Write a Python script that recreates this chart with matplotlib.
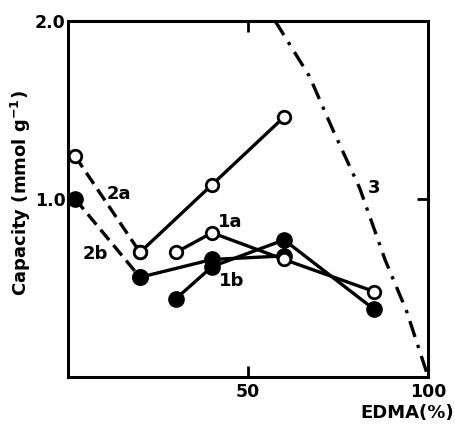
import matplotlib
matplotlib.use("Agg")
import matplotlib.pyplot as plt

# series (EDMA %, capacity mmol/g)
x_2 = [2, 20]
y_2a_dash = [1.24, 0.70]
y_2b_dash = [1.00, 0.56]

x_2_solid = [20, 40, 60]
y_2a = [0.70, 1.08, 1.46]
y_2b = [0.56, 0.66, 0.68]

x_1 = [30, 40, 60, 85]
y_1a = [0.70, 0.81, 0.66, 0.48]
y_1b = [0.44, 0.62, 0.77, 0.38]

x_3 = [57.5, 67, 73.5, 81, 88, 94, 100]
y_3 = [2.0, 1.69, 1.39, 1.06, 0.66, 0.37, 0.0]

plt.rcParams['font.family'] = ['DejaVu Sans']
plt.rcParams['font.weight'] = 'bold'

fig = plt.figure(figsize=(4.56, 4.26), dpi=100)
ax = fig.add_axes([0.149, 0.115, 0.79, 0.836])

lw = 2.4
open_kw = dict(marker='o', markersize=9, markerfacecolor='white',
               markeredgecolor='black', markeredgewidth=2.0, color='black')
fill_kw = dict(marker='o', markersize=11, markerfacecolor='black',
               markeredgecolor='black', color='black')

# dashed parts of 2a / 2b
ax.plot(x_2, y_2a_dash, linestyle=(0, (4, 2)), lw=lw, **open_kw)
ax.plot(x_2, y_2b_dash, linestyle=(0, (4, 2)), lw=lw, **fill_kw)
# solid parts
ax.plot(x_2_solid, y_2a, lw=lw, **open_kw)
ax.plot(x_2_solid, y_2b, lw=lw, **fill_kw)
ax.plot(x_1, y_1a, lw=lw, **open_kw)
ax.plot(x_1, y_1b, lw=lw, **fill_kw)
# curve 3
ax.plot(x_3, y_3, color='black', lw=lw, linestyle=(0, (5, 2.5, 1, 2.5)),
        clip_on=False)

# curve labels
lab_kw = dict(fontsize=13, fontweight='bold', ha='center', va='center')
ax.text(14, 1.03, '2a', **lab_kw)
ax.text(7.5, 0.69, '2b', **lab_kw)
ax.text(45, 0.87, '1a', **lab_kw)
ax.text(45.5, 0.54, '1b', **lab_kw)
ax.text(85, 1.06, '3', **lab_kw)

ax.set_xlim(0, 100)
ax.set_ylim(0, 2.0)
ax.set_xticks([50, 100])
ax.set_xticklabels(['50', '100'])
ax.set_yticks([1.0, 2.0])
ax.set_yticklabels(['1.0', '2.0'])
ax.tick_params(direction='in', length=8, width=2, top=True, right=True,
               labelsize=12.5)
ax.tick_params(axis='y', pad=1.5)
ax.tick_params(axis='x', pad=4)
for s in ax.spines.values():
    s.set_linewidth(2.2)

ax.set_ylabel('Capacity (mmol g$^{-1}$)', fontsize=13, fontweight='bold')
ax.yaxis.set_label_coords(-0.098, 0.517)
ax.text(1.073, -0.101, 'EDMA(%)', transform=ax.transAxes, fontsize=13,
        fontweight='bold', ha='right', va='center')

fig.savefig('out.png', dpi=100)
